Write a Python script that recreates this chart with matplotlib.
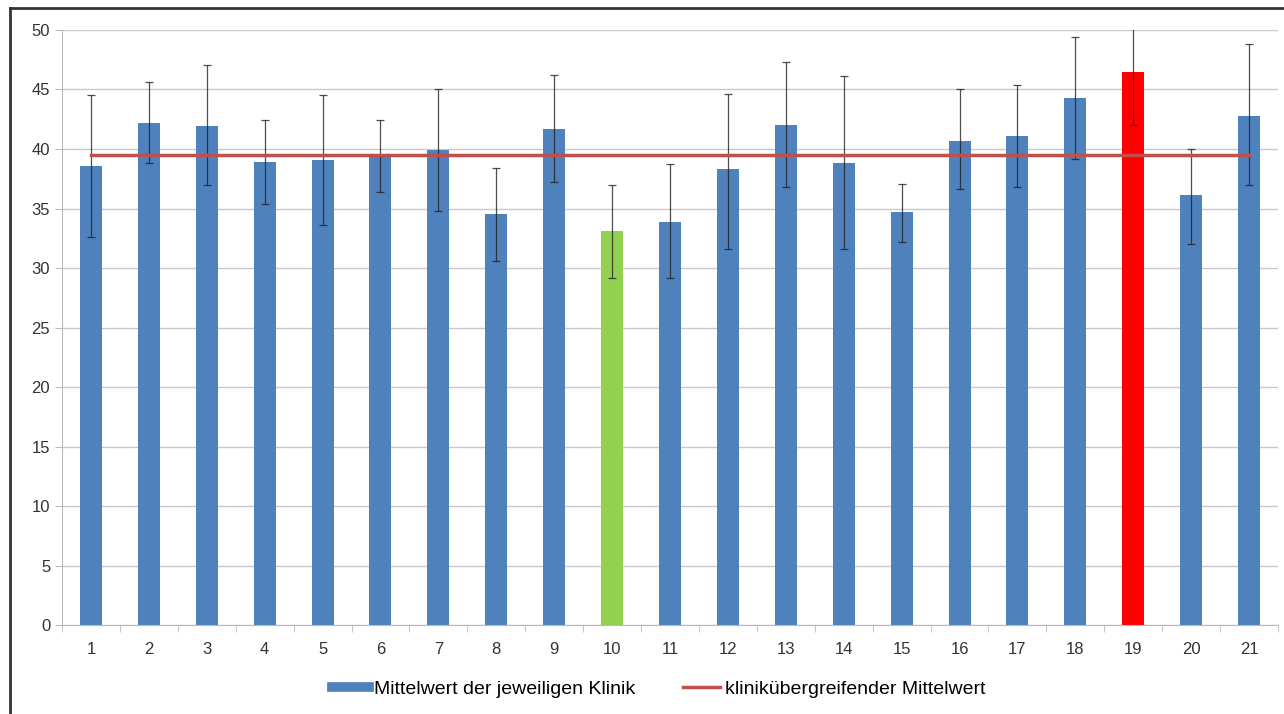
import numpy as np
import matplotlib
matplotlib.use('Agg')
import matplotlib.pyplot as plt
from matplotlib.lines import Line2D

plt.rcParams['font.family'] = ['Liberation Sans', 'DejaVu Sans']

clinics = list(range(1, 22))
means = [38.6, 42.2, 41.9, 38.9, 39.1, 39.5, 39.9, 34.5, 41.7, 33.1, 33.9,
         38.3, 42.0, 38.8, 34.7, 40.7, 41.1, 44.3, 46.5, 36.1, 42.8]
err_upper = [44.5, 45.6, 47.1, 42.4, 44.5, 42.4, 45.0, 38.4, 46.2, 37.0, 38.7,
             44.6, 47.3, 46.1, 37.1, 45.0, 45.4, 49.4, 50.8, 40.0, 48.8]
err_lower = [32.6, 38.8, 37.0, 35.4, 33.6, 36.4, 34.8, 30.6, 37.2, 29.2, 29.2,
             31.6, 36.8, 31.6, 32.2, 36.6, 36.8, 39.2, 42.0, 32.0, 37.0]
overall_mean = 39.5

colors = ['#4F81BD'] * 21
colors[9] = '#92D050'   # clinic 10 lowest
colors[18] = '#FF0000'  # clinic 19 highest

fig = plt.figure(figsize=(12.84, 7.14), dpi=100)
ax = fig.add_axes([0.0483, 0.1246, 0.947, 0.8334])

x = np.arange(len(clinics))
m = np.array(means)
yerr = [m - np.array(err_lower), np.array(err_upper) - m]
ax.bar(x, means, width=0.38, color=colors, zorder=2)
ax.errorbar(x, means, yerr=yerr, fmt='none', ecolor='#222222', elinewidth=0.9,
            capsize=2.7, capthick=0.9, alpha=0.8, zorder=3)
ax.plot([x[0], x[-1]], [overall_mean, overall_mean], color='#C0504D',
        linewidth=2.5, zorder=4)

ax.set_xlim(-0.5, len(clinics) - 0.5)
ax.set_ylim(0, 50)
ax.set_yticks(range(0, 51, 5))
ax.set_xticks(x)
ax.set_xticklabels([str(c) for c in clinics])
ax.set_xticks(np.arange(-0.5, len(clinics)), minor=True)
ax.tick_params(axis='x', which='major', length=0, labelsize=12, pad=12, colors='#333333')
ax.tick_params(axis='x', which='minor', length=5, color='#BBBBBB')
ax.tick_params(axis='y', length=5, color='#BBBBBB', labelsize=12, colors='#333333')
ax.grid(axis='y', color='#C8C8C8', linewidth=1, zorder=0)
ax.set_axisbelow(True)
for s in ['top', 'right']:
    ax.spines[s].set_visible(False)
ax.spines['left'].set_color('#BBBBBB')
ax.spines['bottom'].set_color('#BBBBBB')

handles = [Line2D([0], [0], color='#4F81BD', linewidth=7),
           Line2D([0], [0], color='#C0504D', linewidth=2.5)]
fig.legend(handles, ['Mittelwert der jeweiligen Klinik', 'klinikübergreifender Mittelwert'],
           loc='center', bbox_to_anchor=(0.513, 0.035), ncol=2, frameon=False,
           fontsize=14, handlelength=1.9, columnspacing=2.5, handletextpad=0.25)

# screenshot frame (top and left edge)
fig.add_artist(Line2D([0.0078, 1.0], [0.989, 0.989], color='#333333', linewidth=2))
fig.add_artist(Line2D([0.0078, 0.0078], [0.0, 0.989], color='#333333', linewidth=2))

fig.savefig('out.png', dpi=100)
